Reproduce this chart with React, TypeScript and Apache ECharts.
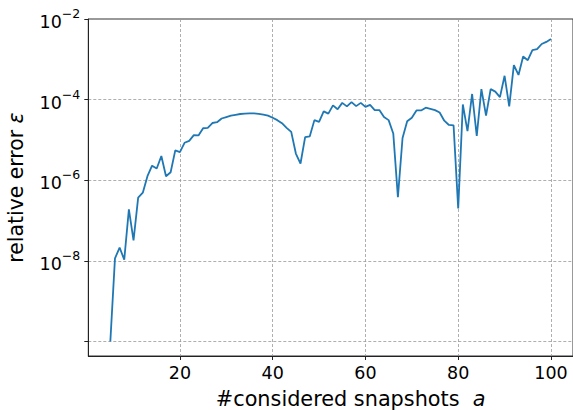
import React, { useEffect, useRef } from "react";
import * as echarts from "echarts";

const snapshots: number[] = [
  5, 6, 7, 8, 9, 10, 11, 12, 13, 14, 15, 16, 17, 18, 19, 20,
  21, 22, 23, 24, 25, 26, 27, 28, 29, 30, 31, 32, 33, 34, 35, 36,
  37, 38, 39, 40, 41, 42, 43, 44, 45, 46, 47, 48, 49, 50, 51, 52,
  53, 54, 55, 56, 57, 58, 59, 60, 61, 62, 63, 64, 65, 66, 67, 68,
  69, 70, 71, 72, 73, 74, 75, 76, 77, 78, 79, 80, 81, 82, 83, 84,
  85, 86, 87, 88, 89, 90, 91, 92, 93, 94, 95, 96, 97, 98, 99, 100,
];

const relativeError: number[] = [
  1.0e-10, 1.15e-8, 2.14e-8, 1.07e-8, 1.9e-7, 3.24e-8, 3.7e-7, 4.9e-7, 1.26e-6, 2.3e-6, 1.95e-6, 4.0e-6, 1.26e-6, 1.58e-6, 5.5e-6, 5.0e-6,
  8.5e-6, 9.5e-6, 1.32e-5, 1.29e-5, 1.95e-5, 2.0e-5, 2.63e-5, 2.75e-5, 3.4e-5, 3.7e-5, 4.0e-5, 4.2e-5, 4.4e-5, 4.5e-5, 4.55e-5, 4.55e-5,
  4.45e-5, 4.25e-5, 4.0e-5, 3.55e-5, 3.1e-5, 2.6e-5, 2.0e-5, 1.58e-5, 4.6e-6, 2.6e-6, 1.17e-5, 1.23e-5, 3.1e-5, 2.8e-5, 5.1e-5, 4.5e-5,
  7.2e-5, 5.75e-5, 8.3e-5, 6.8e-5, 8.7e-5, 6.9e-5, 8.3e-5, 6.6e-5, 7.4e-5, 5.5e-5, 5.5e-5, 3.7e-5, 3.1e-5, 1.45e-5, 3.8e-7, 1.12e-5,
  2.9e-5, 3.55e-5, 5.4e-5, 5.4e-5, 6.3e-5, 5.9e-5, 5.5e-5, 4.8e-5, 3.0e-5, 2.35e-5, 2.3e-5, 2.0e-7, 7.6e-5, 1.66e-5, 1.38e-4, 1.26e-5,
  1.82e-4, 4.0e-5, 1.82e-4, 1.58e-4, 1.15e-4, 3.9e-4, 6.8e-5, 7.2e-4, 4.1e-4, 1.17e-3, 9.5e-4, 1.7e-3, 1.78e-3, 2.4e-3, 2.7e-3, 3.2e-3,
];

const xTicks: number[] = [20, 40, 60, 80, 100];
const yTickExponents: number[] = [-10, -8, -6, -4, -2];
const yLabelExponents: number[] = [-8, -6, -4, -2];

const FONT = "DejaVu Sans";

export default function App() {
  const ref = useRef<HTMLDivElement>(null);

  useEffect(() => {
    if (!ref.current) return;
    const chart = echarts.init(ref.current, null, { renderer: "svg" });
    const data = snapshots.map((a, i) => [a, Math.log10(relativeError[i])]);

    const splitLine = {
      show: true,
      lineStyle: { color: "#9a9a9a", type: [3, 2] as any, width: 0.8 },
    };
    const axisLine = { show: true, onZero: false, lineStyle: { color: "#222", width: 1 } };

    chart.setOption({
      animation: false,
      backgroundColor: "#fff",
      grid: {
        left: 88.3,
        right: 0,
        top: 19,
        bottom: 54,
        show: true,
        borderColor: "#333",
        borderWidth: 1,
        containLabel: false,
        outerBoundsMode: "none",
      },
      xAxis: {
        type: "value",
        min: 0.25,
        max: 104.75,
        axisLine,
        axisTick: { show: true, customValues: xTicks, length: 4, lineStyle: { color: "#222" } },
        axisLabel: {
          customValues: xTicks,
          fontSize: 17.5,
          color: "#000",
          fontFamily: FONT,
          margin: 8,
        },
        splitLine,
        name: "#considered snapshots  {i|a}",
        nameLocation: "middle",
        nameGap: 32,
        nameTextStyle: {
          fontSize: 20.8,
          color: "#000",
          fontFamily: FONT,
          padding: [0, 0, 0, 40],
          rich: { i: { fontSize: 20.8, fontStyle: "italic", fontFamily: FONT, color: "#000" } },
        },
      },
      yAxis: {
        type: "value",
        min: -10.36,
        max: -2,
        axisLine,
        axisTick: { show: true, customValues: yTickExponents, length: 4, lineStyle: { color: "#222" } },
        axisLabel: {
          customValues: yLabelExponents,
          margin: 8,
          color: "#000",
          fontFamily: FONT,
          formatter: (v: number) => `{b|10}{s|\u2212${Math.round(-v)}}`,
          rich: {
            b: { fontSize: 17.5, fontFamily: FONT, color: "#000", lineHeight: 24, verticalAlign: "bottom" },
            s: { fontSize: 12.5, fontFamily: FONT, color: "#000", lineHeight: 24, verticalAlign: "top" },
          },
        },
        splitLine,
        name: "relative error {i|\u03b5}",
        nameLocation: "middle",
        nameGap: 62,
        nameTextStyle: {
          fontSize: 20.4,
          color: "#000",
          fontFamily: FONT,
          rich: { i: { fontSize: 20.4, fontStyle: "italic", fontFamily: FONT, color: "#000" } },
        },
      },
      series: [
        {
          type: "line",
          data,
          showSymbol: false,
          symbol: "none",
          silent: true,
          lineStyle: { color: "#1f77b4", width: 1.8 },
        },
      ],
    });

    return () => chart.dispose();
  }, []);

  return (
    <div
      ref={ref}
      style={{ position: "fixed", left: 0, top: 0, width: 573, height: 410 }}
    />
  );
}
